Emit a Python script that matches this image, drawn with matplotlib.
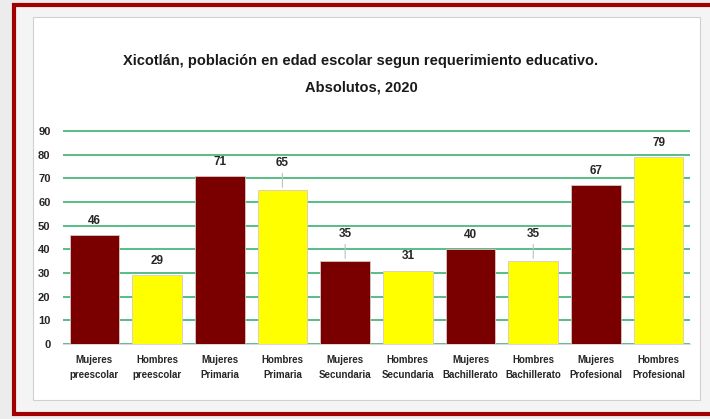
import matplotlib
matplotlib.use("Agg")
import matplotlib.pyplot as plt
from matplotlib.patches import Rectangle
import numpy as np

# data
categorias = ["Mujeres\npreescolar", "Hombres\npreescolar", "Mujeres\nPrimaria", "Hombres\nPrimaria",
              "Mujeres\nSecundaria", "Hombres\nSecundaria", "Mujeres\nBachillerato", "Hombres\nBachillerato",
              "Mujeres\nProfesional", "Hombres\nProfesional"]
valores = [46, 29, 71, 65, 35, 31, 40, 35, 67, 79]
titulo = "Xicotlán, población en edad escolar segun requerimiento educativo.\nAbsolutos, 2020"

# style
plt.rcParams['font.family'] = ["Liberation Sans", "DejaVu Sans"]
colores = ["#7a0000", "#ffff00"] * 5
# labels pushed up with a leader line (Excel style)
con_guia = {3: 9, 4: 9, 7: 9}

W, H = 710, 419
fig = plt.figure(figsize=(W / 100, H / 100), dpi=100)
fig.patch.set_facecolor("#ececec")

# outer red frame and white panel
fig.patches.append(Rectangle((14 / W, 1 - 414 / H), 700 / W, 409 / H, transform=fig.transFigure,
                             facecolor="#f4f4f4", edgecolor="#a00000", linewidth=3, zorder=0))
fig.patches.append(Rectangle((33 / W, 1 - 400 / H), 667 / W, 383 / H, transform=fig.transFigure,
                             facecolor="white", edgecolor="#d0d0d0", linewidth=0.8, zorder=1))

ax = fig.add_axes([63 / W, 1 - 344 / H, 627 / W, 215 / H])
ax.set_zorder(3)
ax.set_facecolor("none")
x = np.arange(len(valores))
ax.bar(x, valores, width=0.79, color=colores, edgecolor="#d9c7c7", linewidth=0.6, zorder=3)

for i, v in enumerate(valores):
    extra = con_guia.get(i, 0)
    ax.annotate(str(v), (i, v), xytext=(0, 6 + extra), textcoords="offset points",
                ha="center", va="bottom", fontsize=8.5, fontweight="bold", color="#262626", zorder=4)
    if extra:
        ax.annotate("", (i, v), xytext=(0, 5 + extra), textcoords="offset points",
                    arrowprops=dict(arrowstyle="-", color="#bfbfbf", lw=0.8), zorder=4)

ax.set_xlim(-0.5, len(valores) - 0.5)
ax.set_ylim(0, 90.8)
ax.set_yticks(range(0, 91, 10))
ax.yaxis.grid(True, color="#3cb371", linewidth=1.2, zorder=0)
ax.set_axisbelow(True)
ax.set_xticks(x)
ax.set_xticklabels(categorias, fontsize=7, fontweight="bold", color="#262626", linespacing=1.55)
ax.tick_params(axis="both", length=0)
ax.tick_params(axis="x", pad=8)
ax.tick_params(axis="y", labelsize=8, labelcolor="#262626", pad=9)
for lbl in ax.get_yticklabels():
    lbl.set_fontweight("bold")
for s in ["top", "right", "left"]:
    ax.spines[s].set_visible(False)
ax.spines["bottom"].set_color("#d9d9d9")

fig.text(361 / W, 1 - 74 / H, titulo, ha="center", va="center", fontsize=10.5, fontweight="bold",
         color="#1a1a1a", linespacing=2.1)

fig.savefig("out.png", dpi=100)
